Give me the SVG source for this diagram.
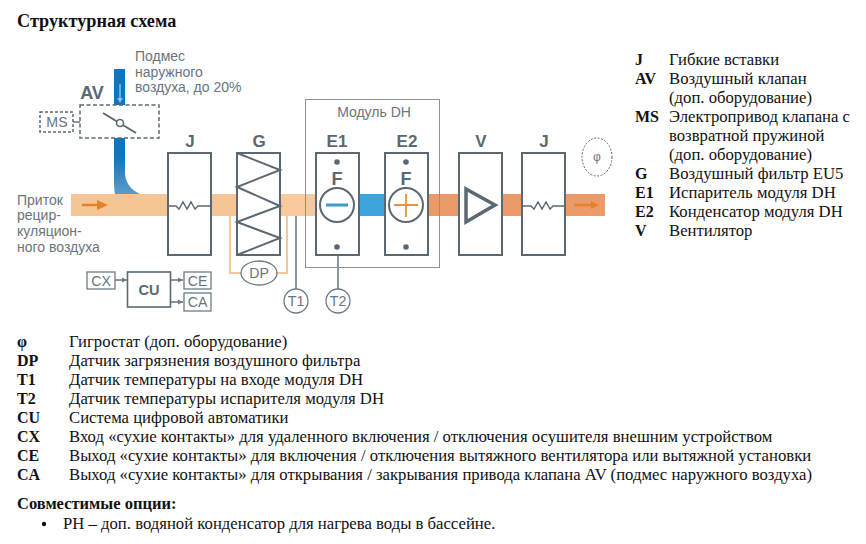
<svg xmlns="http://www.w3.org/2000/svg" width="866" height="544" viewBox="0 0 866 544">
<defs>
<linearGradient id="bl" x1="0" y1="0" x2="0" y2="1"><stop offset="0" stop-color="#0f75bc"/><stop offset="0.7" stop-color="#0f75bc"/><stop offset="1" stop-color="#5c9ccb"/></linearGradient>
<marker id="a" markerWidth="6" markerHeight="6" refX="5" refY="3" orient="auto" markerUnits="userSpaceOnUse"><path d="M0 0.5L5 3L0 5.5Z" fill="#6d7b85"/></marker>
</defs>
<style>
.t{font-family:"Liberation Serif","Times New Roman",serif;font-size:16.7px;fill:#111}
.b{font-weight:bold;font-size:16px}
.o{font-weight:bold;font-size:16.5px}
.s{font-family:"Liberation Sans",Arial,sans-serif;fill:#6a747c;font-size:14px}
.l{font-size:14.2px}
.h{font-family:"Liberation Sans",Arial,sans-serif;fill:#5b6872;font-size:17px;font-weight:bold;text-anchor:middle}
.box{fill:#fff;stroke:#5b6872;stroke-width:2}
.thin{fill:#fff;stroke:#6d7b85;stroke-width:1.3}
.ln{fill:none;stroke:#5b6872;stroke-width:1.4}
.dash{fill:#fff;stroke:#5b6872;stroke-width:1.5;stroke-dasharray:3 2}
.m{text-anchor:middle}
</style>
<rect width="866" height="544" fill="#fff"/>
<text class="t" x="17" y="27" style="font-size:18.2px;font-weight:bold">Структурная схема</text>

<g id="duct">
<rect x="71" y="194" width="245" height="22" fill="#f5c596"/>
<rect x="280" y="194" width="36" height="22" fill="#f7c99c"/>
<rect x="359" y="194" width="26" height="22" fill="#3da5dc"/>
<rect x="428" y="194" width="177" height="22" fill="#ec9a68"/>
<path d="M114 69H125V172Q125 187 140 194H115Q114 190 114 180Z" fill="url(#bl)"/>
<path d="M120 84V101" stroke="#7cc4ec" stroke-width="1.5" fill="none"/>
<path d="M117 98L120 103L123 98Z" fill="#7cc4ec"/>
<path d="M82 205H100" stroke="#e5812c" stroke-width="2.5"/><path d="M97 200L108 205L97 210Z" fill="#e5812c"/>
<path d="M574 205H594" stroke="#e5812c" stroke-width="2.5"/><path d="M591 201L599 205L591 209Z" fill="#e5812c"/>
</g>

<g id="connectors">
<path d="M230 216V273H241M287 216V273H276" fill="none" stroke="#f3c79c" stroke-width="2"/>
<path class="ln" d="M296 216V290M338 255V290"/>
<path class="ln" d="M73 122H80"/>
<path class="ln" d="M115 280H127" marker-end="url(#a)"/>
<path class="ln" d="M170 280H183" marker-end="url(#a)"/>
<path class="ln" d="M170 302H183" marker-end="url(#a)"/>
</g>

<g id="AV">
<rect x="80" y="105" width="79" height="33" fill="#fff" stroke="#5b6872" stroke-width="1.5" stroke-dasharray="4 2.5"/>
<path d="M103 113L136 133" stroke="#5b6872" stroke-width="2"/>
<circle cx="120" cy="123" r="3.5" fill="#fff" stroke="#5b6872" stroke-width="1.6"/>
<text class="h" x="92" y="99" style="font-size:18px">AV</text>
<text class="s" x="135" y="61">Подмес</text>
<text class="s" x="135" y="77">наружного</text>
<text class="s" x="135" y="92">воздуха, до 20%</text>
</g>
<g id="MS"><rect class="dash" x="40" y="112" width="33" height="20"/><text class="s m l" x="57" y="127">MS</text></g>

<g id="J1"><rect class="box" x="168" y="153" width="43" height="102"/>
<path class="ln" d="M168 206H176L179 209L183 202L187 209L191 202L195 209L198 206H211"/>
<text class="h" x="190" y="147">J</text></g>

<g id="G"><rect class="box" x="237" y="153" width="43" height="102"/>
<path d="M237 153L280 170L237 187L280 206L237 222L280 238L237 255" fill="none" stroke="#5b6872" stroke-width="2"/>
<text class="h" x="259" y="147">G</text></g>

<g id="DH"><rect x="305.500" y="99.500" width="134" height="168" fill="none" stroke="#8a9298" stroke-width="1"/>
<text class="s m" x="374" y="117">Модуль DH</text></g>

<g id="E1"><rect class="box" x="316" y="153" width="43" height="102"/>
<circle cx="337" cy="162" r="2.800" fill="#5b6872"/><circle cx="337" cy="247" r="2.800" fill="#5b6872"/>
<text class="h" x="337" y="185" style="font-size:18px">F</text>
<circle cx="337" cy="205" r="17" fill="#fff" stroke="#5b6872" stroke-width="2"/>
<path d="M326 205H348" stroke="#3b9dc9" stroke-width="3"/>
<text class="h" x="337" y="147">E1</text></g>

<g id="E2"><rect class="box" x="385" y="153" width="43" height="102"/>
<circle cx="406" cy="162" r="2.800" fill="#5b6872"/><circle cx="406" cy="247" r="2.800" fill="#5b6872"/>
<text class="h" x="406" y="185" style="font-size:18px">F</text>
<circle cx="406" cy="205" r="17" fill="#fff" stroke="#5b6872" stroke-width="2"/>
<path d="M394 205H418M406 194V217" stroke="#e8923c" stroke-width="1.800"/>
<text class="h" x="407" y="147">E2</text></g>

<g id="V"><rect class="box" x="459" y="153" width="43" height="102"/>
<path d="M466 189L495 205L466 222Z" fill="#fff" stroke="#5b6872" stroke-width="3.500"/>
<text class="h" x="481" y="147">V</text></g>

<g id="J2"><rect class="box" x="522" y="153" width="43" height="102"/>
<path class="ln" d="M522 206H531L534 209L538 202L542 209L546 202L550 209L553 206H565"/>
<text class="h" x="544" y="147">J</text></g>

<g id="phi"><ellipse cx="597" cy="157" rx="15" ry="19" fill="#fff" stroke="#5b6872" stroke-width="1" stroke-dasharray="2 1.500"/>
<text class="s m" x="597" y="161" style="font-size:12px">φ</text></g>

<g id="DP"><ellipse class="thin" cx="259" cy="273" rx="18" ry="12"/><text class="s m l" x="259" y="278">DP</text></g>
<g id="T1"><circle class="thin" cx="296" cy="301" r="12"/><text class="s m l" x="296" y="306">T1</text></g>
<g id="T2"><circle class="thin" cx="338" cy="301" r="12"/><text class="s m l" x="338" y="306">T2</text></g>
<g id="CX"><rect class="thin" x="87" y="272" width="28" height="17"/><text class="s m l" x="101" y="286">CX</text></g>
<g id="CU"><rect class="box" x="127.500" y="272" width="43" height="35" style="stroke-width:1.6"/><text class="h m" x="149" y="295" style="font-size:14.5px">CU</text></g>
<g id="CE"><rect class="thin" x="184" y="272" width="27" height="17"/><text class="s m l" x="197.500" y="286">CE</text></g>
<g id="CA"><rect class="thin" x="184" y="293" width="27" height="18"/><text class="s m l" x="197.500" y="307">CA</text></g>

<g id="inlet-label"><text class="s" x="17" y="205">Приток</text><text class="s" x="17" y="220">рецир-</text><text class="s" x="17" y="236">куляцион-</text><text class="s" x="17" y="252">ного воздуха</text></g>

<g id="legend-right">
<text class="t b" x="635" y="65">J</text><text class="t" x="669" y="65">Гибкие вставки</text>
<text class="t b" x="635" y="84">AV</text><text class="t" x="669" y="84">Воздушный клапан</text>
<text class="t" x="669" y="103">(доп. оборудование)</text>
<text class="t b" x="635" y="122">MS</text><text class="t" x="669" y="122">Электропривод клапана с</text>
<text class="t" x="669" y="141">возвратной пружиной</text>
<text class="t" x="669" y="160">(доп. оборудование)</text>
<text class="t b" x="635" y="179">G</text><text class="t" x="669" y="179">Воздушный фильтр EU5</text>
<text class="t b" x="635" y="198">E1</text><text class="t" x="669" y="198">Испаритель модуля DH</text>
<text class="t b" x="635" y="217">E2</text><text class="t" x="669" y="217">Конденсатор модуля DH</text>
<text class="t b" x="635" y="236">V</text><text class="t" x="669" y="236">Вентилятор</text>
</g>
<g id="legend-bottom">
<text class="t b" x="17" y="347">φ</text><text class="t" x="69" y="347">Гигростат (доп. оборудование)</text>
<text class="t b" x="17" y="366">DP</text><text class="t" x="69" y="366">Датчик загрязнения воздушного фильтра</text>
<text class="t b" x="17" y="385">T1</text><text class="t" x="69" y="385">Датчик температуры на входе модуля DH</text>
<text class="t b" x="17" y="404">T2</text><text class="t" x="69" y="404">Датчик температуры испарителя модуля DH</text>
<text class="t b" x="17" y="423">CU</text><text class="t" x="69" y="423">Система цифровой автоматики</text>
<text class="t b" x="17" y="442">CX</text><text class="t" x="69" y="442">Вход «сухие контакты» для удаленного включения / отключения осушителя внешним устройством</text>
<text class="t b" x="17" y="461">CE</text><text class="t" x="69" y="461">Выход «сухие контакты» для включения / отключения вытяжного вентилятора или вытяжной установки</text>
<text class="t b" x="17" y="480">CA</text><text class="t" x="69" y="480">Выход «сухие контакты» для открывания / закрывания привода клапана AV (подмес наружного воздуха)</text>
<text class="t o" x="17" y="509">Совместимые опции:</text>
<circle cx="44" cy="524" r="2.200" fill="#111"/>
<text class="t" x="63" y="529">PH – доп. водяной конденсатор для нагрева воды в бассейне.</text>
</g>
</svg>
